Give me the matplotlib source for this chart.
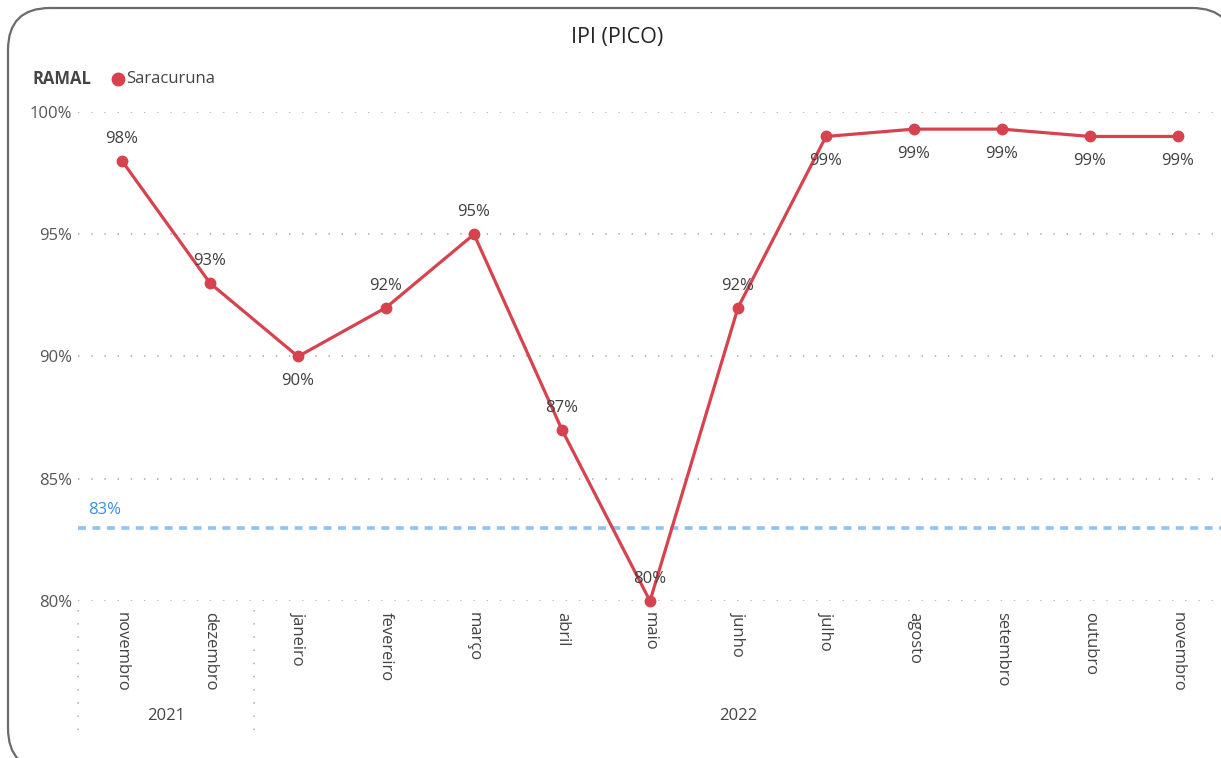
import matplotlib
matplotlib.use("Agg")
import matplotlib.pyplot as plt
from matplotlib.patches import FancyBboxPatch
from matplotlib.lines import Line2D
import matplotlib.transforms as mtransforms

plt.rcParams['font.family'] = ['Open Sans', 'DejaVu Sans']

# Monthly IPI peak values for the Saracuruna branch
months = ["novembro", "dezembro", "janeiro", "fevereiro", "março", "abril",
          "maio", "junho", "julho", "agosto", "setembro", "outubro", "novembro"]
ipi = [98.0, 93.0, 90.0, 92.0, 95.0, 87.0, 80.0, 92.0, 99.0, 99.3, 99.3, 99.0, 99.0]
label_below = [False, False, True, False, False, False, False, False, True, True, True, True, True]
years = ["2021", "2022"]
year_spans = [(0, 1), (2, 12)]
target = 83.0
y_ticks = [80, 85, 90, 95, 100]

W, H = 1221, 758
FS = 12
fig = plt.figure(figsize=(W / 100, H / 100), dpi=100)

# rounded frame around the visual, drawn in pixel units
bg = fig.add_axes([0, 0, 1, 1], zorder=-1)
bg.set_xlim(0, W)
bg.set_ylim(H, 0)
bg.axis("off")
bg.add_patch(FancyBboxPatch((8, 8), 1226, 762,
                            boxstyle="round,pad=0,rounding_size=42",
                            facecolor="white", edgecolor="#6b6b6b", linewidth=1.6))

ax = fig.add_axes([78 / W, 1 - 601 / H, 1144 / W, 489 / H])
ax.set_facecolor("none")
ax.set_xlim(-0.5, 12.5)
ax.set_ylim(80, 100)

red = "#d6434f"
x = list(range(len(ipi)))
ax.plot(x, ipi, color=red, linewidth=2.3, marker="o", markersize=7.5,
        zorder=4, clip_on=False, solid_capstyle="round")

# target line
ax.axhline(target, color="#8ec3f7", linewidth=2.6, linestyle=(0, (2.2, 1.8)),
           zorder=3, clip_on=False)
ax.text(-0.39, target + 0.4, f"{target:.0f}%", color="#3b8ee8", fontsize=FS,
        ha="left", va="bottom")

# data labels
for xi, v, below in zip(x, ipi, label_below):
    if below:
        ax.annotate(f"{v:.0f}%", (xi, v), xytext=(0, -12), textcoords="offset points",
                    ha="center", va="top", fontsize=FS, color="#3f3f3f", zorder=5)
    else:
        ax.annotate(f"{v:.0f}%", (xi, v), xytext=(0, 10), textcoords="offset points",
                    ha="center", va="bottom", fontsize=FS, color="#3f3f3f", zorder=5)

# grid and axes styling
grid_kw = dict(color="#b4b4b4", linewidth=1.3, linestyle=(0, (0.8, 6.5)))
ax.set_yticks(y_ticks)
ax.set_yticklabels([f"{t}%" for t in y_ticks], fontsize=FS, color="#555555")
for t in y_ticks:
    ax.axhline(t, zorder=1, **grid_kw)
for s in ax.spines.values():
    s.set_visible(False)
ax.tick_params(axis="y", length=0, pad=4)
ax.tick_params(axis="x", length=0, pad=8)
ax.set_xticks(x)
ax.set_xticklabels(months, rotation=270, fontsize=FS, color="#444444",
                   ha="center", va="top")

# year grouping under the month labels
blend = mtransforms.blended_transform_factory(ax.transData, ax.transAxes)
for yr, (a, b) in zip(years, year_spans):
    ax.text((a + b) / 2, -0.235, yr, transform=blend, ha="center", va="center",
            fontsize=FS, color="#444444")
for xs in [-0.5, 1.5]:
    ax.add_line(Line2D([xs, xs], [-0.018, -0.274], transform=blend,
                       clip_on=False, **grid_kw))

# title and legend
fig.text(617 / W, 1 - 38 / H, "IPI (PICO)", ha="center", va="center",
         fontsize=15.5, color="#252423")
fig.text(32 / W, 1 - 79 / H, "RAMAL", ha="left", va="center", fontsize=FS,
         fontweight="bold", color="#444444")
fig.add_artist(Line2D([118 / W], [1 - 79 / H], marker="o", markersize=9,
                      color=red, transform=fig.transFigure))
fig.text(126 / W, 1 - 79 / H, "Saracuruna", ha="left", va="center", fontsize=FS,
         color="#444444")

fig.savefig("out.png", dpi=100)
